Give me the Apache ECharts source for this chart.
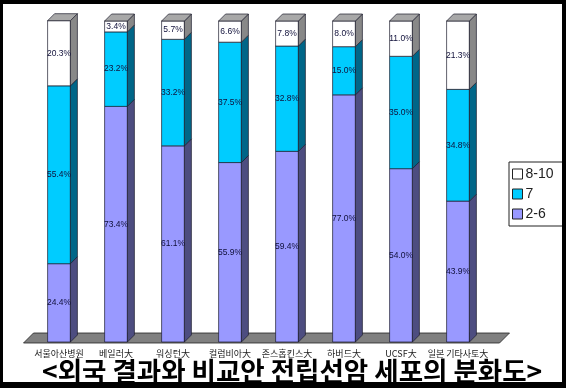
<!DOCTYPE html>
<html><head><meta charset="utf-8">
<script src="https://cdn.jsdelivr.net/npm/echarts@6/dist/echarts.min.js"></script>
<style>
html,body{margin:0;padding:0;background:#000;width:566px;height:388px;overflow:hidden}
#c{position:absolute;left:3px;top:4px;width:559px;height:378px;background:#fff}
</style></head>
<body><div id="c"></div>
<script>
const categories = ['서울아산병원','베일러大','워싱턴大','컬럼비아大','존스홉킨스大','하버드大','UCSF大','일본 기타사토大'];
const grade2to6 = [24.4, 73.4, 61.1, 55.9, 59.4, 77.0, 54.0, 43.9];
const grade7    = [55.4, 23.2, 33.2, 37.5, 32.8, 15.0, 35.0, 34.8];
const grade8to10= [20.3, 3.4, 5.7, 6.6, 7.8, 8.0, 11.0, 21.3];
const seriesNames = ['2-6','7','8-10'];
const titleText = '<외국 결과와 비교안 전립선암 세포의 분화도>';

const styles = [
  {front:'#9999FF', side:'#4D4D80', top:'#7A7ACC'},
  {front:'#00CCFF', side:'#006688', top:'#00A3CC'},
  {front:'#FFFFFF', side:'#888888', top:'#A8A8A8'}
];
const seriesVals = [grade2to6, grade7, grade8to10];
const D = 7;

function makeData(k){
  return categories.map((c,i)=>{
    let base=0; for(let j=0;j<k;j++) base+=seriesVals[j][i];
    return [i, base, base+seriesVals[k][i], seriesVals[k][i]];
  });
}
function renderer(k){
  return function(params, api){
    const i=api.value(0), b=api.value(1), t=api.value(2), v=api.value(3);
    const pB=api.coord([i,b]), pT=api.coord([i,t]);
    const w=api.size([1,0])[0]*0.4;
    const x0=pB[0]-w/2, x1=x0+w, yb=pB[1], yt=pT[1];
    const st=styles[k];
    const line={stroke:'#1c1c2c', lineWidth:0.7};
    const ch=[
      {type:'rect', shape:{x:x0,y:yt,width:w,height:yb-yt}, style:Object.assign({fill:st.front},line)},
      {type:'polygon', shape:{points:[[x1,yb],[x1,yt],[x1+D,yt-D],[x1+D,yb-D]]}, style:Object.assign({fill:st.side},line)}
    ];
    if(k===2){
      ch.push({type:'polygon', shape:{points:[[x0,yt],[x1,yt],[x1+D,yt-D],[x0+D,yt-D]]}, style:Object.assign({fill:st.top},line)});
    }
    ch.push({type:'text', x:(x0+x1)/2, y:(yt+yb)/2, z2:10,
      style:{text:v.toFixed(1)+'%', fill:'#10103a', font:'8.5px "Liberation Sans Narrow","Liberation Sans",sans-serif', align:'center', verticalAlign:'middle'}});
    return {type:'group', children:ch};
  };
}
function floorRender(params, api){
  const n=categories.length;
  const band=api.size([1,0])[0];
  const p0=api.coord([0,0]), pN=api.coord([n-1,0]);
  const y=p0[1]+1;
  const l=p0[0]-band/2-7, r=pN[0]+band/2+13;
  return {type:'polygon', shape:{points:[[l,y],[l+10,y-10],[r+10,y-10],[r,y]]},
    style:{fill:'#808080', stroke:'#222', lineWidth:0.8}};
}

const chart=echarts.init(document.getElementById('c'),null,{renderer:'canvas'});
const series=[{type:'custom', name:'floor', renderItem:floorRender, data:[[0,0]], encode:{x:0,y:1}, silent:true, z:1}];
for(let k=0;k<3;k++){
  series.push({type:'custom', name:seriesNames[k], renderItem:renderer(k), data:makeData(k),
    encode:{x:0,y:[1,2]}, itemStyle:{color:styles[k].front}, z:2+k});
}
chart.setOption({
  animation:false,
  backgroundColor:'#fff',
  title:{text:titleText, left:34, top:349,
    textStyle:{fontFamily:'"Noto Sans CJK KR"', fontWeight:'bold', fontSize:26.5, color:'#000'}},
  grid:{left:27.5, right:75.5, top:17, bottom:40},
  xAxis:{type:'category', data:categories, axisLine:{show:false}, axisTick:{show:false},
    axisLabel:{margin:7, fontSize:9, color:'#222', fontFamily:'"Noto Sans CJK KR"', interval:0}},
  yAxis:{type:'value', min:0, max:100, show:false},
  legend:{orient:'vertical', left:506, top:158, data:[
      {name:'8-10', itemStyle:{color:'#fff', borderColor:'#222', borderWidth:1}},
      {name:'7', itemStyle:{color:'#00CCFF', borderColor:'#222', borderWidth:1}},
      {name:'2-6', itemStyle:{color:'#9999FF', borderColor:'#222', borderWidth:1}}],
    icon:'rect', itemWidth:10, itemHeight:10, itemGap:6,
    borderColor:'#222', borderWidth:1, backgroundColor:'#fff', padding:[5,20,5,3],
    textStyle:{fontSize:14, color:'#222', fontFamily:'"Liberation Sans",sans-serif', padding:[0,0,0,-2]},
    selectedMode:false},
  series:series
});
</script></body></html>
